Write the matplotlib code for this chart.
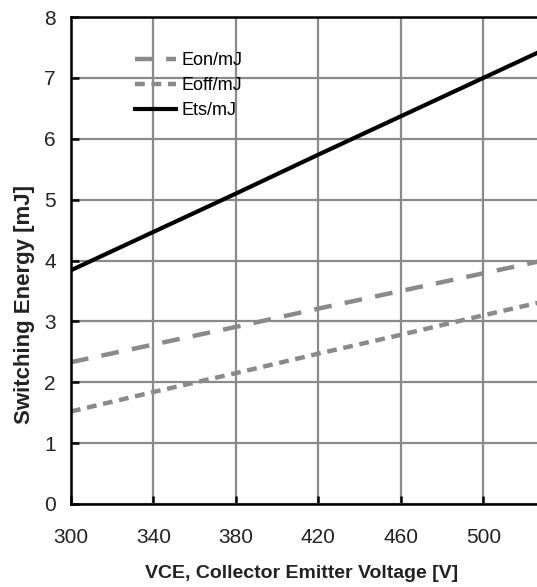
import matplotlib.pyplot as plt

plt.rcParams['font.family'] = ['Liberation Sans', 'DejaVu Sans']

# values
voltage = [300, 340, 380, 420, 460, 500, 540]
eon = [2.33, 2.62, 2.91, 3.21, 3.50, 3.79, 4.08]
eoff = [1.52, 1.84, 2.15, 2.47, 2.78, 3.10, 3.41]
ets = [3.84, 4.47, 5.10, 5.74, 6.37, 7.00, 7.63]

x_ticks = [300, 340, 380, 420, 460, 500]
y_ticks = [0, 1, 2, 3, 4, 5, 6, 7, 8]

fig = plt.figure(figsize=(5.37, 5.87), dpi=100)
ax = fig.add_axes([0.1322, 0.1414, 0.8678, 0.8296])

grey = '#8a8a8a'
ax.plot(voltage, eon, color=grey, lw=3.2, dashes=(4.0, 3.0), label='Eon/mJ')
ax.plot(voltage, eoff, color=grey, lw=3.2, dashes=(2.2, 1.5), label='Eoff/mJ')
ax.plot(voltage, ets, color='black', lw=3.0, label='Ets/mJ')

ax.set_xlim(300, 526)
ax.set_ylim(0, 8)
ax.set_xticks(x_ticks)
ax.set_yticks(y_ticks)
ax.grid(True, color=grey, lw=1.6)
ax.set_axisbelow(True)

for side in ['left', 'bottom', 'top']:
    ax.spines[side].set_linewidth(1.8)
    ax.spines[side].set_color('black')
ax.spines['right'].set_visible(False)

ax.tick_params(direction='in', length=6, width=1.8, labelsize=15, colors='black')
ax.tick_params(axis='x', pad=17)
ax.tick_params(axis='y', pad=11)
for lbl in ax.get_xticklabels() + ax.get_yticklabels():
    lbl.set_color('#222222')

ax.set_xlabel('VCE, Collector Emitter Voltage [V]', fontsize=14, fontweight='bold', color='#222222')
ax.set_ylabel('Switching Energy [mJ]', fontsize=16, fontweight='bold', color='#222222')
ax.xaxis.set_label_coords(0.494, -0.125)
ax.yaxis.set_label_coords(-0.077, 0.41)

leg = ax.legend(loc='upper left', bbox_to_anchor=(0.137, 0.928), frameon=False, fontsize=13,
                handlelength=2.3, handletextpad=0.28, labelspacing=0.44,
                borderaxespad=0, borderpad=0)

fig.savefig('out.png', dpi=100)
